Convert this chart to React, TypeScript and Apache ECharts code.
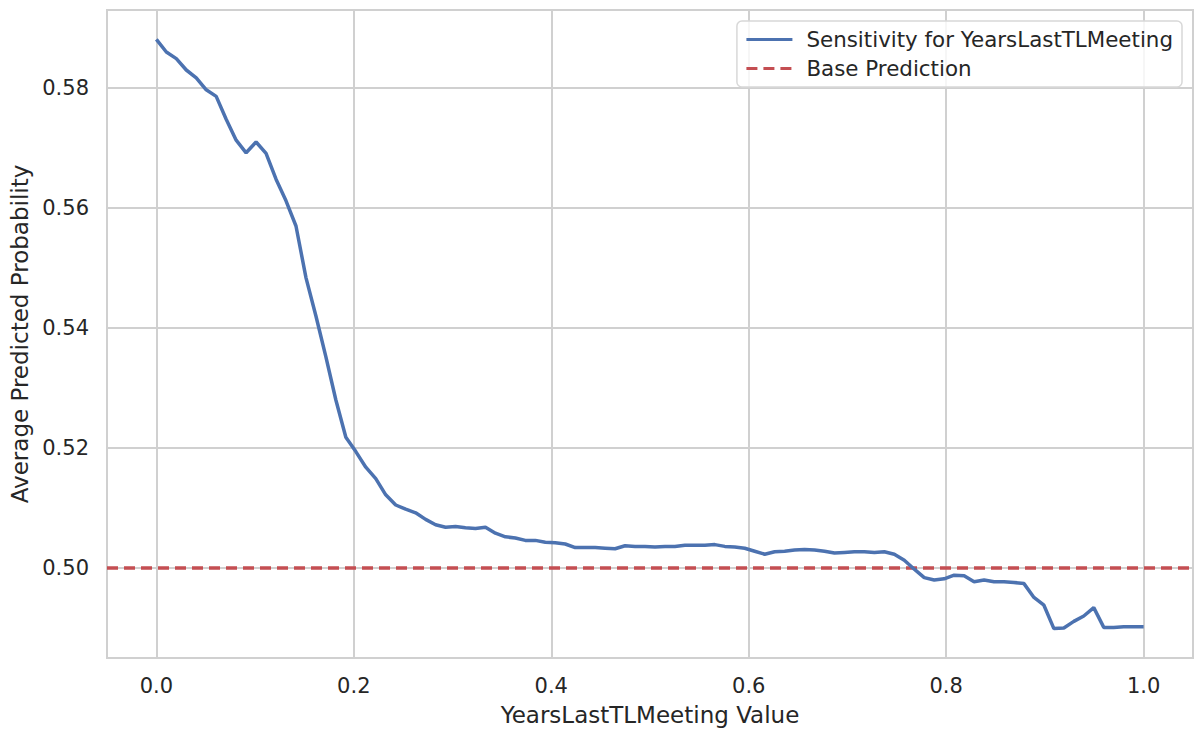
import React, { useEffect, useRef } from "react";
import * as echarts from "echarts";

// Average predicted probability at each sampled YearsLastTLMeeting value (0 → 1, 100 steps)
const sensitivity: number[] = [
  0.5881, 0.586, 0.5849, 0.583, 0.5817, 0.5797, 0.5786, 0.5748, 0.5713, 0.5692,
  0.571, 0.5691, 0.5648, 0.5612, 0.557, 0.5484, 0.542, 0.5352, 0.528, 0.5218,
  0.5194, 0.5168, 0.5149, 0.5122, 0.5105, 0.5098, 0.5092, 0.5081, 0.5072, 0.5068,
  0.5069, 0.5067, 0.5066, 0.5068, 0.5058, 0.5052, 0.505, 0.5046, 0.5046, 0.5043,
  0.5042, 0.504, 0.5034, 0.5034, 0.5034, 0.5033, 0.5032, 0.5037, 0.5036, 0.5036,
  0.5035, 0.5036, 0.5036, 0.5038, 0.5038, 0.5038, 0.5039, 0.5036, 0.5035, 0.5033,
  0.5028, 0.5023, 0.5027, 0.5028, 0.503, 0.5031, 0.503, 0.5028, 0.5025, 0.5026,
  0.5027, 0.5027, 0.5026, 0.5027, 0.5023, 0.5013, 0.4998, 0.4984, 0.498, 0.4982,
  0.4988, 0.4987, 0.4977, 0.498, 0.4977, 0.4977, 0.4976, 0.4974, 0.4951, 0.4938,
  0.4899, 0.49, 0.4911, 0.492, 0.4934, 0.4901, 0.4901, 0.4902, 0.4902, 0.4902,
];

// Sample positions of the feature (evenly spaced from 0 to 1)
const featureValues: number[] = sensitivity.map((_, i) => i / (sensitivity.length - 1));

const basePrediction = 0.5;
const xExtent: [number, number] = [-0.05, 1.05];
const yExtent: [number, number] = [0.485, 0.593];
const xTicks: number[] = [0, 0.2, 0.4, 0.6, 0.8, 1.0];
const yTicks: number[] = [0.5, 0.52, 0.54, 0.56, 0.58];

const FONT = "DejaVu Sans";
const TEXT = "#262626";
const GRID = "#d0d0d0";

function isTick(v: number, ticks: number[]) {
  return ticks.some((t) => Math.abs(t - v) < 1e-9);
}

export default function App() {
  const ref = useRef<HTMLDivElement>(null);

  useEffect(() => {
    document.body.style.margin = "0";
    if (!ref.current) return;
    const chart = echarts.init(ref.current, undefined, { renderer: "svg" });

    const axisCommon = {
      axisLine: { show: true, lineStyle: { color: GRID, width: 2 } },
      axisTick: { show: false },
      splitLine: { show: true, lineStyle: { color: GRID, width: 2 } },
    };

    chart.setOption({
      animation: false,
      backgroundColor: "#ffffff",
      textStyle: { fontFamily: FONT, color: TEXT },
      grid: { left: 107, right: 5, top: 10, bottom: 73, show: true, borderColor: GRID, borderWidth: 2 },
      xAxis: {
        type: "value",
        min: xExtent[0],
        max: xExtent[1],
        ...axisCommon,
        name: "YearsLastTLMeeting Value",
        nameLocation: "middle",
        nameGap: 45,
        nameTextStyle: { fontFamily: FONT, fontSize: 23, color: TEXT },
        axisLabel: {
          showMinLabel: false,
          showMaxLabel: false,
          margin: 17,
          fontFamily: FONT,
          fontSize: 21,
          color: TEXT,
          formatter: (v: number) => (isTick(v, xTicks) ? v.toFixed(1) : ""),
        },
      },
      yAxis: {
        type: "value",
        min: yExtent[0],
        max: yExtent[1],
        ...axisCommon,
        name: "Average Predicted Probability",
        nameLocation: "middle",
        nameGap: 72,
        nameTextStyle: { fontFamily: FONT, fontSize: 23, color: TEXT },
        axisLabel: {
          showMinLabel: false,
          showMaxLabel: false,
          margin: 18,
          fontFamily: FONT,
          fontSize: 21,
          color: TEXT,
          formatter: (v: number) => (isTick(v, yTicks) ? v.toFixed(2) : ""),
        },
      },
      legend: {
        top: 21,
        right: 16,
        orient: "vertical",
        align: "left",
        itemWidth: 46,
        itemHeight: 14,
        itemGap: 8,
        padding: [8, 9, 8, 8],
        backgroundColor: "rgba(255,255,255,0.8)",
        borderColor: "#d8d8d8",
        borderWidth: 1.5,
        borderRadius: 5,
        itemStyle: { opacity: 0 },
        lineStyle: { width: 3 },
        textStyle: { fontFamily: FONT, fontSize: 21.4, color: TEXT, padding: [0, 0, 0, 9] },
        data: ["Sensitivity for YearsLastTLMeeting", "Base Prediction"],
      },
      series: [
        {
          name: "Sensitivity for YearsLastTLMeeting",
          type: "line",
          data: featureValues.map((x, i) => [x, sensitivity[i]]),
          showSymbol: false,
          symbol: "none",
          lineStyle: { color: "#4c72b0", width: 3.5 },
          itemStyle: { color: "#4c72b0" },
          z: 3,
        },
        {
          name: "Base Prediction",
          type: "line",
          data: [
            [xExtent[0], basePrediction],
            [xExtent[1], basePrediction],
          ],
          showSymbol: false,
          symbol: "none",
          lineStyle: { color: "#c44e52", width: 3.5, type: [11, 6] },
          itemStyle: { color: "#c44e52" },
          z: 2,
        },
      ],
    });

    return () => chart.dispose();
  }, []);

  return <div ref={ref} style={{ width: 1198, height: 731 }} />;
}
